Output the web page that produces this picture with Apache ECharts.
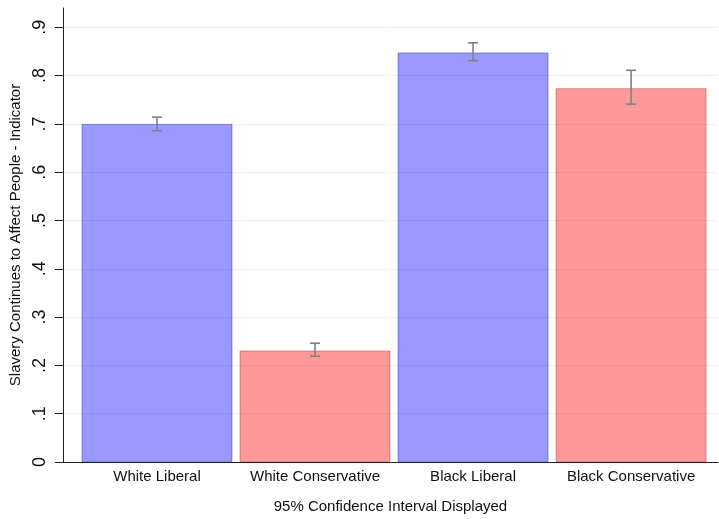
<!DOCTYPE html>
<html>
<head>
<meta charset="utf-8">
<script src="https://cdn.jsdelivr.net/npm/echarts@6/dist/echarts.min.js"></script>
<style>html,body{margin:0;padding:0;background:#fff;}#c{width:719px;height:519px;}</style>
</head>
<body>
<div id="c"></div>
<script>
var categories = ['White Liberal', 'White Conservative', 'Black Liberal', 'Black Conservative'];
var means = [0.700, 0.231, 0.848, 0.774];
var ciLow = [0.686, 0.219, 0.831, 0.741];
var ciHigh = [0.714, 0.246, 0.868, 0.811];
var groupType = ['liberal', 'conservative', 'liberal', 'conservative'];
var yTicks = [0, 0.1, 0.2, 0.3, 0.4, 0.5, 0.6, 0.7, 0.8, 0.9];
var yTickLabels = ['0', '.1', '.2', '.3', '.4', '.5', '.6', '.7', '.8', '.9'];

var fills = { liberal: 'rgba(0,0,255,0.4)', conservative: 'rgba(255,0,0,0.4)' };
var borders = { liberal: 'rgba(0,0,150,0.35)', conservative: 'rgba(150,0,0,0.35)' };

var positions = categories.map(function (c, i) { return i + 1; });
var barData = means.map(function (v, i) {
  return {
    value: [positions[i], v],
    itemStyle: { color: fills[groupType[i]], borderColor: borders[groupType[i]], borderWidth: 1 }
  };
});
var errData = means.map(function (v, i) { return [positions[i], ciLow[i], ciHigh[i]]; });

var font = 'Liberation Sans, Arial, sans-serif';
var chart = echarts.init(document.getElementById('c'));
chart.setOption({
  animation: false,
  backgroundColor: '#fff',
  grid: { left: 60, right: 1, top: 8, bottom: 56, containLabel: false },
  xAxis: {
    type: 'value',
    min: 0.4045,
    max: 4.55,
    name: '95% Confidence Interval Displayed',
    nameLocation: 'middle',
    nameGap: 37,
    nameTextStyle: { fontFamily: font, fontSize: 15, color: '#111' },
    axisLine: { show: true, onZero: false, lineStyle: { color: '#222', width: 1 } },
    axisTick: { show: false },
    splitLine: { show: false },
    axisLabel: {
      customValues: positions,
      fontFamily: font, fontSize: 15, color: '#111', margin: 7,
      formatter: function (v) { return categories[Math.round(v) - 1] || ''; }
    }
  },
  yAxis: {
    type: 'value',
    min: 0,
    max: 0.94,
    name: 'Slavery Continues to Affect People - Indicator',
    nameLocation: 'middle',
    nameGap: 32,
    nameTextStyle: { fontFamily: font, fontSize: 15, color: '#111' },
    axisLine: { show: true, lineStyle: { color: '#222', width: 1 } },
    axisTick: { show: true, customValues: yTicks, length: 8, lineStyle: { color: '#222' } },
    splitLine: { show: true, lineStyle: { color: '#eaf2f3', width: 1 } },
    axisLabel: {
      customValues: yTicks,
      rotate: 90,
      fontFamily: font, fontSize: 18, color: '#111', margin: 14,
      formatter: function (v) {
        var idx = yTicks.findIndex(function (t) { return Math.abs(t - v) < 1e-6; });
        return idx >= 0 ? yTickLabels[idx] : '';
      }
    }
  },
  series: [
    {
      type: 'bar',
      data: barData,
      barWidth: 151,
      z: 2
    },
    {
      type: 'custom',
      z: 5,
      data: errData,
      renderItem: function (params, api) {
        var x = api.value(0);
        var lo = api.coord([x, api.value(1)]);
        var hi = api.coord([x, api.value(2)]);
        var hw = 5;
        var style = { stroke: '#808080', lineWidth: 1.6 };
        return {
          type: 'group',
          children: [
            { type: 'line', shape: { x1: lo[0], y1: lo[1], x2: hi[0], y2: hi[1] }, style: style },
            { type: 'line', shape: { x1: hi[0] - hw, y1: hi[1], x2: hi[0] + hw, y2: hi[1] }, style: style },
            { type: 'line', shape: { x1: lo[0] - hw, y1: lo[1], x2: lo[0] + hw, y2: lo[1] }, style: style }
          ]
        };
      }
    }
  ]
});
</script>
</body>
</html>
